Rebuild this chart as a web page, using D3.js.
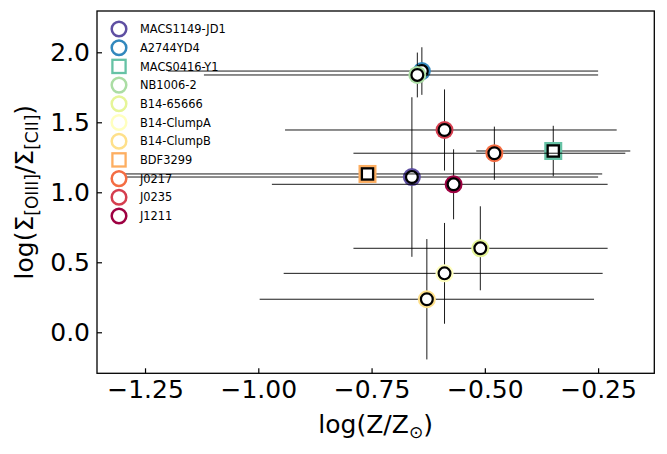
<!DOCTYPE html>
<html>
<head>
<meta charset="utf-8">
<title>Metallicity vs line ratio</title>
<script src="https://d3js.org/d3.v7.min.js"></script>
<style>
    body { margin: 0; background: #fff; }
    text { font-family: "DejaVu Sans", sans-serif; fill: #000; }
</style>
</head>
<body>
<div id="chart"></div>
<script>
// Galaxies, in legend order
var names = ["MACS1149-JD1", "A2744YD4", "MACS0416-Y1", "NB1006-2", "B14-65666",
    "B14-ClumpA", "B14-ClumpB", "BDF3299", "J0217", "J0235", "J1211"];
var colors = ["#5e4fa2", "#3288bd", "#66c2a5", "#abdda4", "#e6f598",
    "#ffffbf", "#fee08b", "#fdae61", "#f46d43", "#d53e4f", "#9e0142"];
var shapes = ["o", "o", "s", "o", "o", "o", "o", "s", "o", "o", "o"];

// log(Z/Zsun) with lower / upper errors
var metal      = [-0.661, -0.639, -0.349, -0.649, -0.510, -0.589, -0.628, -0.759, -0.479, -0.589, -0.569];
var metalErrLo = [ 0.633,  0.560,  0.170,  0.471,  0.280,  0.355,  0.369,  0.535,  0.311,  0.352,  0.401];
var metalErrHi = [ 0.411,  0.389,  0.170,  0.399,  0.281,  0.349,  0.369,  0.518,  0.289,  0.380,  0.340];

// log(Sigma_[OIII] / Sigma_[CII]) with symmetric errors
var ratio    = [1.109, 1.866, 1.295, 1.838, 0.600, 0.421, 0.236, 1.131, 1.279, 1.445, 1.057];
var ratioErr = [0.570, 0.170, 0.180, 0.160, 0.300, 0.360, 0.430, 0.055, 0.190, 0.290, 0.250];

var xTicks = [-1.25, -1.00, -0.75, -0.50, -0.25];
var yTicks = [0.0, 0.5, 1.0, 1.5, 2.0];

var margin = { top: 11, right: 12.7, bottom: 80.7, left: 97 };
var width = 667 - margin.left - margin.right;
var height = 454 - margin.top - margin.bottom;

var svg = d3.select("#chart")
    .append("svg")
    .attr("width", 667)
    .attr("height", 454);

var g = svg.append("g")
    .attr("transform", "translate(" + margin.left + "," + margin.top + ")");

var x = d3.scaleLinear().domain([-1.356, -0.126]).range([0, width]);
var y = d3.scaleLinear().domain([-0.293, 2.295]).range([height, 0]);

// axes, ticks pointing inward
var xAxis = g.append("g")
    .attr("transform", "translate(0," + height + ")")
    .call(d3.axisBottom(x).tickValues(xTicks).tickSize(-5).tickPadding(7).tickFormat(d3.format(".2f")));
var yAxis = g.append("g")
    .call(d3.axisLeft(y).tickValues(yTicks).tickSize(-5).tickPadding(7).tickFormat(d3.format(".1f")));

[xAxis, yAxis].forEach(function (a) {
    a.select(".domain").remove();
    a.selectAll(".tick line").attr("stroke", "#000").attr("stroke-width", 1.2);
    a.selectAll(".tick text").style("font-size", "25px").style("font-family", "DejaVu Sans");
});

// one group per galaxy: error bars then marker
var idx = d3.range(names.length);
var series = g.selectAll(".series")
    .data(idx)
    .enter().append("g")
    .attr("class", "series");

series.append("line")
    .attr("x1", function (i) { return x(metal[i] - metalErrLo[i]); })
    .attr("x2", function (i) { return x(metal[i] + metalErrHi[i]); })
    .attr("y1", function (i) { return y(ratio[i]); })
    .attr("y2", function (i) { return y(ratio[i]); })
    .attr("stroke", "#000").attr("stroke-width", 0.9);

series.append("line")
    .attr("x1", function (i) { return x(metal[i]); })
    .attr("x2", function (i) { return x(metal[i]); })
    .attr("y1", function (i) { return y(ratio[i] - ratioErr[i]); })
    .attr("y2", function (i) { return y(ratio[i] + ratioErr[i]); })
    .attr("stroke", "#000").attr("stroke-width", 0.9);

series.each(function (i) {
    var s = d3.select(this);
    var cx = x(metal[i]), cy = y(ratio[i]);
    if (shapes[i] === "s") {
        s.append("rect").attr("x", cx - 9).attr("y", cy - 9).attr("width", 18).attr("height", 18)
            .attr("fill", colors[i]);
        s.append("rect").attr("x", cx - 5.6).attr("y", cy - 5.6).attr("width", 11.2).attr("height", 11.2)
            .attr("fill", "#fff").attr("stroke", "#000").attr("stroke-width", 2.3);
    } else {
        s.append("circle").attr("cx", cx).attr("cy", cy).attr("r", 9)
            .attr("fill", colors[i]);
        s.append("circle").attr("cx", cx).attr("cy", cy).attr("r", 5.9)
            .attr("fill", "#fff").attr("stroke", "#000").attr("stroke-width", 2.2);
    }
});

// frame
g.append("rect")
    .attr("width", width).attr("height", height)
    .attr("fill", "none").attr("stroke", "#000").attr("stroke-width", 1.3);

// legend, no frame
var legend = g.selectAll(".legend")
    .data(idx)
    .enter().append("g")
    .attr("class", "legend")
    .attr("transform", function (i) { return "translate(22," + (18 + i * 18.7) + ")"; });

legend.each(function (i) {
    var l = d3.select(this);
    if (shapes[i] === "s") {
        l.append("rect").attr("x", -6.6).attr("y", -6.6).attr("width", 13.2).attr("height", 13.2)
            .attr("fill", "none").attr("stroke", colors[i]).attr("stroke-width", 2.3);
    } else {
        l.append("circle").attr("r", 7.3)
            .attr("fill", "none").attr("stroke", colors[i]).attr("stroke-width", 2.5);
    }
});

legend.append("text")
    .attr("x", 21)
    .attr("dy", "0.36em")
    .style("font-size", "11.4px")
    .text(function (i) { return names[i]; });

// axis labels
var xl = svg.append("text")
    .attr("x", margin.left + width / 2)
    .attr("y", 433)
    .attr("text-anchor", "middle")
    .style("font-size", "25px");
xl.append("tspan").text("log(Z/Z");
xl.append("tspan").attr("dy", 5).style("font-size", "17px").text("\u2299");
xl.append("tspan").attr("dy", -5).text(")");

var yl = svg.append("text")
    .attr("transform", "translate(33," + (margin.top + height / 2) + ") rotate(-90)")
    .attr("text-anchor", "middle")
    .style("font-size", "25px");
yl.append("tspan").text("log(\u03a3");
yl.append("tspan").attr("dy", 5).style("font-size", "17px").text("[OIII]");
yl.append("tspan").attr("dy", -5).text("/\u03a3");
yl.append("tspan").attr("dy", 5).style("font-size", "17px").text("[CII]");
yl.append("tspan").attr("dy", -5).text(")");
</script>
</body>
</html>
